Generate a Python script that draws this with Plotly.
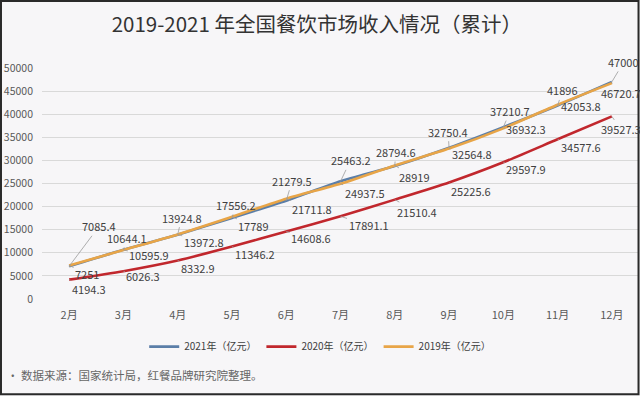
import plotly.graph_objects as go

months = ["2月", "3月", "4月", "5月", "6月", "7月", "8月", "9月", "10月", "11月", "12月"]
y2021 = [7085.4, 10644.1, 13924.8, 17556.2, 21279.5, 25463.2, 28794.6, 32750.4, 37210.7, 41896, 47000]
y2020 = [4194.3, 6026.3, 8332.9, 11346.2, 14608.6, 17891.1, 21510.4, 25225.6, 29597.9, 34577.6, 39527.3]
y2019 = [7251, 10595.9, 13972.8, 17789, 21711.8, 24937.5, 28919, 32564.8, 36932.3, 42053.8, 46720.7]
series_names = ["2021年（亿元）", "2020年（亿元）", "2019年（亿元）"]
y_ticks = [0, 5000, 10000, 15000, 20000, 25000, 30000, 35000, 40000, 45000, 50000]

# label offsets (pixels) for each series' data labels
off2021 = [(30, -40), (4, -12), (4, -17), (4, -13), (6, -20), (10, -21), (1, -14), (-1, -16), (7, -16), (5, -15), (12, -20)]
off2019 = [(18, 8), (26, 5), (26, 8), (22, 9), (26, 10), (24, 9), (20, 12), (23, 5), (23, 1), (23, 1), (9, 10)]
off2020 = [(20, 9), (20, 5), (20, 7), (23, 7), (25, 6), (28, 9), (22, 12), (22, 9), (23, 7), (23, 8), (9, 13)]

c2021 = "#5b7ea8"
c2020 = "#c1272d"
c2019 = "#e8a548"
font_cjk = "Noto Sans CJK SC"

fig = go.Figure()
fig.add_trace(go.Scatter(x=months, y=y2021, name=series_names[0], mode="lines",
                         line=dict(color=c2021, width=2.6, shape="spline", smoothing=0.6)))
fig.add_trace(go.Scatter(x=months, y=y2020, name=series_names[1], mode="lines",
                         line=dict(color=c2020, width=2.6, shape="spline", smoothing=0.6)))
fig.add_trace(go.Scatter(x=months, y=y2019, name=series_names[2], mode="lines",
                         line=dict(color=c2019, width=2.6, shape="spline", smoothing=0.6)))

annotations = []
for vals, offs in ((y2021, off2021), (y2019, off2019), (y2020, off2020)):
    for m, v, (dx, dy) in zip(months, vals, offs):
        annotations.append(dict(
            x=m, y=v, xref="x", yref="y", text=f"{v:g}",
            showarrow=True, arrowhead=0, arrowwidth=0.8, arrowcolor="#9a9a9a",
            standoff=0, ax=dx, ay=dy,
            font=dict(family=font_cjk, size=11, color="#404040")))

annotations.append(dict(
    x=-0.062, y=-0.328, xref="paper", yref="paper", xanchor="left", yanchor="middle",
    text="• 数据来源：国家统计局，红餐品牌研究院整理。", showarrow=False,
    font=dict(family=font_cjk, size=11.5, color="#666666")))

fig.update_layout(
    width=640, height=396,
    margin=dict(l=42, r=1, t=68, b=97),
    paper_bgcolor="#f7f6f8", plot_bgcolor="#f7f6f8",
    title=dict(text="2019-2021 年全国餐饮市场收入情况（累计）",
               x=0.495, xanchor="center", y=0.937, yanchor="middle",
               font=dict(family=font_cjk, size=20.5, color="#333333")),
    font=dict(family=font_cjk, color="#595959"),
    showlegend=True,
    legend=dict(orientation="h", x=0.466, xanchor="center", y=-0.206, yanchor="middle",
                font=dict(family=font_cjk, size=10, color="#404040"),
                itemwidth=30, bgcolor="rgba(0,0,0,0)"),
    annotations=annotations,
    shapes=[dict(type="rect", xref="paper", yref="paper",
                 x0=-0.0687, x1=0.9992, y0=-0.412, y1=1.290,
                 line=dict(color="#2a2a2a", width=2), fillcolor="rgba(0,0,0,0)", layer="above")],
)
fig.update_xaxes(type="category", range=[-0.5, 10.5], showgrid=False, showline=False,
                 zeroline=False, ticks="", ticklabelstandoff=8,
                 tickfont=dict(family=font_cjk, size=11, color="#595959"))
fig.update_yaxes(range=[0, 50000], tickvals=y_ticks, showgrid=True, gridcolor="#d9d9d9",
                 gridwidth=1, zeroline=False, showline=False, ticks="", ticklabelstandoff=8,
                 tickformat="d",
                 tickfont=dict(family=font_cjk, size=10.5, color="#595959"))

fig.write_html("out.html", config={"displayModeBar": False},
               post_script="document.body.style.margin='0';document.body.style.overflow='hidden';")
